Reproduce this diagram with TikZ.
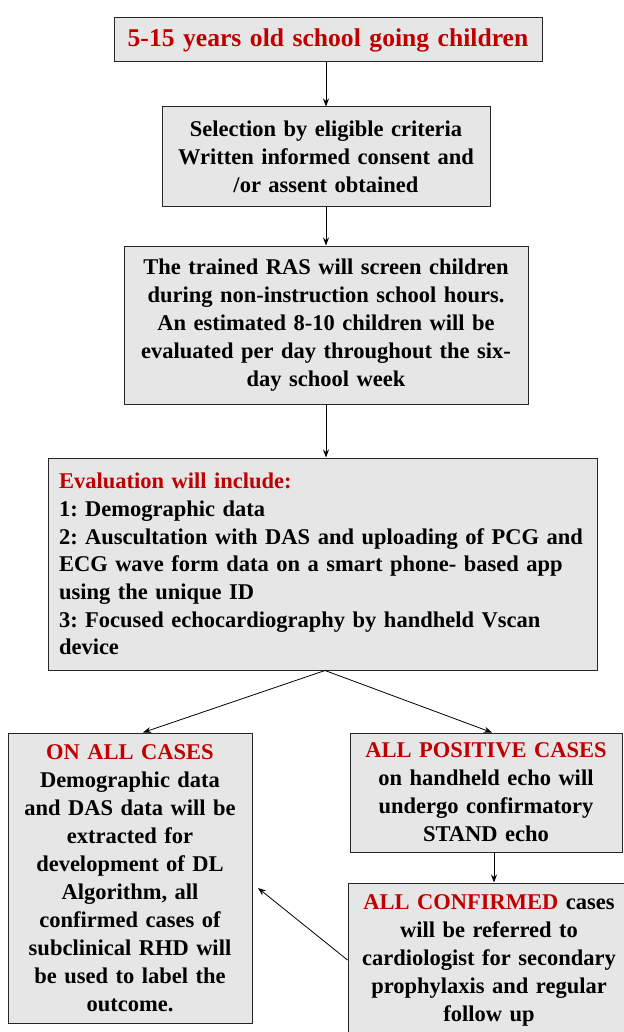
\documentclass[tikz,border=0pt]{standalone}
\usepackage{fontspec}
\setmainfont{Liberation Serif}
\usepackage{tikz}
\usetikzlibrary{arrows.meta}

\definecolor{boxgray}{HTML}{E6E6E6}
\definecolor{boxred}{HTML}{C00000}
\frenchspacing

\begin{document}
\begin{tikzpicture}[x=1pt, y=-1pt,
        box/.style={draw=black!85, line width=1pt, fill=boxgray, inner ysep=0pt, inner xsep=10pt,
            align=center, font=\bfseries\fontsize{22.5}{28}\selectfont},
        arr/.style={-{Stealth[length=8pt,width=6pt]}, line width=0.8pt}]
        %\draw[step=50pt,gray,very thin] (0,0) grid (623,1032);
        \useasboundingbox (0,0) rectangle (623,1032);

        \node[box, text width=408pt, minimum height=44pt, font=\bfseries\fontsize{25.6}{30}\selectfont, text=boxred]
            (children) at (328,40) {5-15 years old school going children};

        \node[box, text width=308pt, minimum height=100pt] (selection) at (326,157)
            {Selection by eligible criteria\\ Written informed consent and\\ /or assent obtained};

        \node[box, text width=384pt, minimum height=158pt] (screen) at (326,325)
            {The trained RAS will screen children\\ during non-instruction school hours.\\
             An estimated 8-10 children will be\\ evaluated per day throughout the six-\\ day school week};

        \node[box, text width=527pt, inner xsep=11pt, minimum height=212pt, align=left,
            font=\bfseries\fontsize{22.5}{27.7}\selectfont] (eval) at (322.5,564)
            {\textcolor{boxred}{Evaluation will include:}\\
             1: Demographic data\\
             2: Auscultation with DAS and uploading of PCG and\\
             ECG wave form data on a smart phone- based app\\
             using the unique ID\\
             3: Focused echocardiography by handheld Vscan\\
             device};

        \node[box, text width=224pt, minimum height=290pt] (allcases) at (130,878)
            {\textcolor{boxred}{ON ALL CASES}\\ Demographic data\\ and DAS data will be\\ extracted for\\
             development of DL\\ Algorithm, all\\ confirmed cases of\\ subclinical RHD will\\
             be used to label the\\ outcome.};

        \node[box, text width=252pt, minimum height=119pt] (positive) at (486,792.5)
            {\textcolor{boxred}{ALL POSITIVE CASES}\\ on handheld echo will\\ undergo confirmatory\\ STAND echo};

        \node[box, text width=262pt, minimum height=154pt] (confirmed) at (489,960)
            {\textcolor{boxred}{ALL CONFIRMED} cases\\ will be referred to\\ cardiologist for secondary\\
             prophylaxis and regular\\ follow up};

        \coordinate (algo) at (258,888);

        \draw[arr] (children.south -| selection.north) -- (selection.north);
        \draw[arr] (selection) -- (screen);
        \draw[arr] (screen) -- ([xshift=3.5pt]eval.north);
        \draw[arr] ([xshift=2.5pt]eval.south) -- ([xshift=13pt]allcases.north);
        \draw[arr] ([xshift=2.5pt]eval.south) -- ([xshift=6pt]positive.north);
        \draw[arr] ([xshift=8pt]positive.south) -- ([xshift=5pt]confirmed.north);
        \draw[arr] (confirmed.west) -- (algo);
\end{tikzpicture}
\end{document}
